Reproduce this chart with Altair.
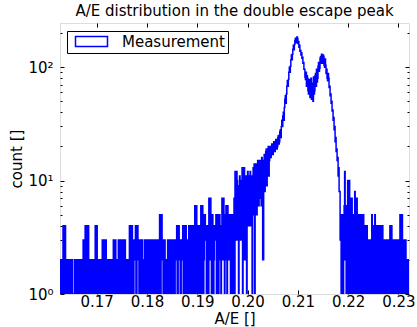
import altair as alt
import pandas as pd

# Histogram of A/E values around the double escape peak (fine binning)
bin_start = 0.1627
bin_width = 0.0001

# counts per bin, split into ranges of the A/E axis
counts_left_tail = [
    2, 0, 1, 2, 0, 2, 4, 1, 0, 4, 4, 0, 2, 1, 0, 2, 1, 1, 2, 0,
    1, 2, 1, 0, 2, 1, 1, 1, 0, 2, 1, 2, 0, 2, 2, 1, 0, 2, 1, 2,
    2, 0, 1, 2, 0, 2, 3, 1, 0, 3, 4, 1, 2, 4, 0, 4, 4, 1, 2, 0,
    1, 2, 2, 1, 0, 2, 2, 0, 1, 2, 4, 0, 1, 4, 2, 1, 0, 2, 1, 2,
    2, 0, 0, 2, 3, 1, 0, 3, 2, 3, 1, 3, 2, 0, 1, 2, 1, 1, 2, 0,
    1, 2, 0, 2, 2, 1, 3, 0, 1, 3, 3, 1, 0, 2, 2, 1, 3, 0, 1, 3,
    2, 3, 0, 3, 3, 1, 2, 3, 0, 3, 2, 1, 1, 1, 2, 0, 1, 2, 4, 0,
    1, 4, 3, 4, 1, 3, 0, 3, 3, 2, 4, 0, 1, 4, 4, 2, 3, 1, 0, 3,
    2, 3, 1, 3, 2, 0, 1, 2, 3, 0, 1, 3, 3, 1, 2, 3, 0, 3, 2, 1,
    3, 0, 1, 3, 3, 2, 0, 3, 3, 1, 2, 3, 0, 3, 3, 1, 2, 3, 5, 1,
    0, 5, 5, 2, 3, 0, 1, 3, 3, 1, 2, 0, 1, 2, 3, 1, 2, 3, 0, 3,
    3, 2, 1, 3, 3, 0, 2, 3, 1, 3, 3, 2, 4, 0, 1, 4, 4, 2, 3, 1,
    0, 3, 3, 2, 4, 1, 2, 4, 0, 4, 4, 1, 3, 0, 2, 3, 4, 1, 2, 4,
    4, 0, 3, 1, 4, 2, 1, 4, 6, 2, 1, 6, 4, 0, 2, 4, 4, 1, 3, 4,
]
counts_shoulder = [
    6, 1, 2, 6, 5, 0, 2, 5, 5, 3, 4, 1, 2, 4, 4, 0, 7, 2, 3, 7,
    5, 1, 3, 5, 4, 0, 2, 4, 4, 3, 5, 1, 4, 2, 5, 0, 3, 5, 4, 2,
    1, 4, 7, 3, 2, 7, 5, 1, 3, 5, 6, 2, 1, 6, 5, 3, 2, 5, 4, 0,
    5, 1, 4, 2, 5, 1,
]
counts_rise = [
    7, 0, 12, 3, 4, 12, 10, 3, 9, 0, 4, 11, 10, 3, 4, 10, 13, 0, 4, 11,
    13, 2, 5, 10, 11, 0, 4, 12, 11, 5, 4, 10, 12, 5, 4, 11, 1, 11, 13, 5,
    14, 0, 6, 14, 13, 5, 6, 15, 14, 6, 7, 15, 13, 7, 6, 16, 14, 2, 2, 15,
    17, 8, 9, 18, 19, 9, 11, 18, 20, 11, 15, 19, 20, 16, 17, 21, 21, 17, 18, 22,
    22, 18, 19, 23, 23, 19, 20, 24, 25, 21, 22, 27, 28, 24, 30, 34,
]
counts_peaks = [
    30, 37, 40, 34, 44, 52, 56, 48, 58, 68, 76, 68, 78, 90, 100, 90, 102, 116, 128, 116,
    130, 144, 156, 142, 158, 172, 180, 164, 172, 184, 180, 162, 168, 150, 156, 138, 140, 128, 134, 120,
    122, 108, 110, 96, 96, 82, 78, 90, 68, 84, 80, 62, 58, 78, 74, 54, 56, 80, 52, 72,
    68, 50, 82, 58, 62, 84, 88, 68, 96, 74, 80, 102, 110, 92, 98, 120, 124, 108, 130, 114,
    108, 128, 124, 104, 100, 118, 104, 88, 96, 80, 76, 88, 80, 66, 68, 56, 58, 48, 50, 41,
    42, 34, 36, 28, 30, 22, 24, 18, 19, 15, 16, 11, 13, 8,
]
counts_right_tail = [
    8, 3, 5, 1, 4, 5, 4, 0, 3, 6, 12, 2, 6, 0, 2, 6, 10, 1, 3, 10,
    7, 0, 2, 7, 7, 1, 5, 0, 2, 5, 8, 1, 5, 0, 7, 2, 1, 5, 5, 0,
    2, 5, 5, 1, 3, 5, 0, 5, 4, 1, 2, 4, 0, 4, 4, 1, 3, 0, 1, 3,
    3, 2, 0, 3, 5, 1, 4, 0, 2, 4, 5, 1, 4, 0, 1, 4, 4, 2, 0, 4,
    4, 1, 3, 4, 0, 4, 3, 1, 2, 3, 0, 3, 3, 1, 2, 2, 3, 0, 1, 3,
    4, 0, 2, 4, 3, 1, 0, 3, 3, 2, 1, 3, 3, 0, 2, 3, 1, 3, 3, 0,
    5, 1, 2, 5, 5, 0, 3, 1, 2, 3, 0, 3, 2, 2, 1, 2, 0, 2, 2, 2,
    1, 2,
]

counts = counts_left_tail + counts_shoulder + counts_rise + counts_peaks + counts_right_tail

x_tick_values = [0.17, 0.18, 0.19, 0.20, 0.21, 0.22, 0.23]
y_major_values = [1, 10, 100]
y_minor_values = [2, 3, 4, 5, 6, 7, 8, 9, 20, 30, 40, 50, 60, 70, 80, 90, 200]
x_domain = [0.1627, 0.2321]
y_domain = [1, 245]

# step outline: each bin's left edge with its count, closed at the last edge
edges = [round(bin_start + i * bin_width, 6) for i in range(len(counts) + 1)]
df = pd.DataFrame({
    "edge": edges,
    "count": counts + [0],
    "series": ["Measurement"] * (len(counts) + 1),
})

FONT = "DejaVu Sans"
FS = 15

base = alt.Chart(df).transform_calculate(c="max(datum.count, 0.5)")


def x_enc(axis):
    return alt.X("edge:Q", scale=alt.Scale(domain=x_domain, nice=False, zero=False), axis=axis)


def y_enc(axis):
    return alt.Y("c:Q", scale=alt.Scale(type="log", domain=y_domain, nice=False), axis=axis)


tick_style = dict(domain=False, grid=False, tickColor="black", tickWidth=1)

hist = base.mark_line(interpolate="step-after", strokeWidth=1.5, clip=True).encode(
    x=x_enc(alt.Axis(orient="bottom", values=x_tick_values, format=".2f", offset=-4, tickSize=4,
                     labelPadding=0, labelFlush=False, labelOverlap=False, labelFont=FONT,
                     labelFontSize=FS, labelColor="black", title="A/E []", titleFont=FONT,
                     titleFontSize=FS, titleFontWeight="normal", titleColor="black",
                     titlePadding=2, **tick_style)),
    y=y_enc(alt.Axis(orient="left", values=y_major_values, offset=-4, tickSize=4,
                     labelExpr="'10' + (datum.value == 1 ? '⁰' : datum.value == 10 ? '¹' : '²')",
                     labelPadding=7, labelFont=FONT, labelFontSize=FS, labelColor="black",
                     title="count []", titleFont=FONT, titleFontSize=FS, titleFontWeight="normal",
                     titleColor="black", titlePadding=3, **tick_style)),
    color=alt.Color("series:N", scale=alt.Scale(range=["#0000ff"]), legend=alt.Legend(
        title=None, orient="none", legendX=7, legendY=8, padding=3,
        strokeColor="black", fillColor="white", cornerRadius=0,
        # open rectangle patch, 32 x 10 px
        symbolType="M-0.4,-1H6V1H-0.4Z", symbolSize=100, symbolStrokeWidth=1.5,
        symbolFillColor="white", symbolStrokeColor="#0000ff",
        labelFont=FONT, labelFontSize=FS, labelColor="black", labelOffset=37)),
)

# tick marks on the top and right edges
outer_ticks = base.mark_line(opacity=0).encode(
    x=x_enc(alt.Axis(orient="top", values=x_tick_values, offset=-4, tickSize=4, labels=False,
                     title=None, **tick_style)),
    y=y_enc(alt.Axis(orient="right", values=y_major_values, offset=-4, tickSize=4, labels=False,
                     title=None, **tick_style)),
)

# minor ticks of the log axis, left and right
minor_left = base.mark_line(opacity=0).encode(
    x=x_enc(None),
    y=y_enc(alt.Axis(orient="left", values=y_minor_values, offset=-2, tickSize=2, labels=False,
                     title=None, **tick_style)),
)
minor_right = base.mark_line(opacity=0).encode(
    x=x_enc(None),
    y=y_enc(alt.Axis(orient="right", values=y_minor_values, offset=-2, tickSize=2, labels=False,
                     title=None, **tick_style)),
)

chart = alt.layer(hist, outer_ticks, minor_left, minor_right).resolve_scale(
    x="independent", y="independent"
).properties(
    width=349,
    height=271,
    autosize=alt.AutoSizeParams(type="none"),
    padding={"left": 60, "top": 23, "right": 8, "bottom": 33},
    title=alt.Title("A/E distribution in the double escape peak", font=FONT, fontSize=FS,
                    fontWeight="normal", color="black", anchor="middle", offset=4),
).configure_view(stroke="black", strokeWidth=1).configure(background="white")

chart.save("out.html", embed_options={"renderer": "svg", "actions": False})
